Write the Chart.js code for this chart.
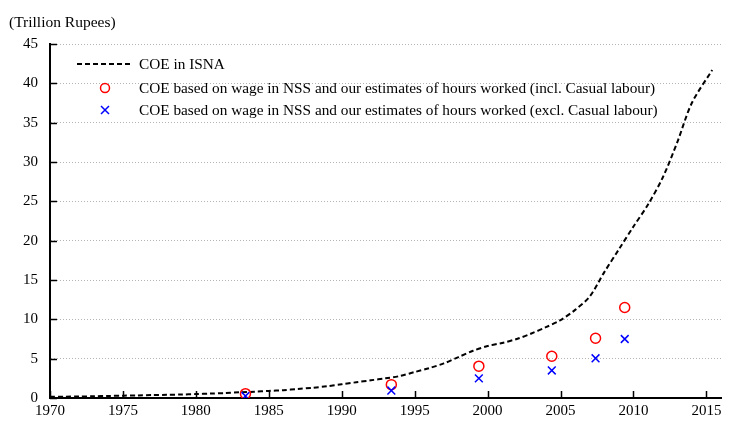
<!DOCTYPE html>
<html>
<head>
<meta charset="utf-8">
<script src="https://cdn.jsdelivr.net/npm/chart.js@4.4.1/dist/chart.umd.min.js"></script>
<style>
  body { margin: 0; background: #fff; }
</style>
</head>
<body>
<canvas id="chart" width="729" height="422"></canvas>
<script>
// COE in ISNA (trillion rupees), annual
const isnaYears = [1970, 1971, 1972, 1973, 1974, 1975, 1976, 1977, 1978, 1979,
  1980, 1981, 1982, 1983, 1984, 1985, 1986, 1987, 1988, 1989,
  1990, 1991, 1992, 1993, 1994, 1995, 1996, 1997, 1998, 1999,
  2000, 2001, 2002, 2003, 2004, 2005, 2006, 2007, 2008, 2009,
  2010, 2011, 2012, 2013, 2014, 2015.4];
const isnaValues = [0.15, 0.17, 0.19, 0.22, 0.26, 0.3, 0.33, 0.37, 0.4, 0.44,
  0.5, 0.56, 0.63, 0.72, 0.8, 0.9, 1.0, 1.15, 1.3, 1.5,
  1.75, 2.0, 2.25, 2.5, 2.8, 3.3, 3.8, 4.4, 5.2, 6.0,
  6.6, 7.0, 7.5, 8.2, 9.0, 9.9, 11.2, 12.9, 16.0, 18.9,
  21.8, 24.6, 28.0, 32.5, 37.5, 41.7];

// NSS survey rounds
const nssYears = [1983.4, 1993.4, 1999.4, 2004.4, 2007.4, 2009.4];
const inclCasual = [0.55, 1.7, 4.05, 5.3, 7.6, 11.5];
const exclCasual = [0.25, 0.95, 2.5, 3.5, 5.05, 7.5];

const yTicks = [0, 5, 10, 15, 20, 25, 30, 35, 40, 45];
const xTicks = [1970, 1975, 1980, 1985, 1990, 1995, 2000, 2005, 2010, 2015];

const legendLabels = [
  "COE in ISNA",
  "COE based on wage in NSS and our estimates of hours worked (incl. Casual labour)",
  "COE based on wage in NSS and our estimates of hours worked (excl. Casual labour)"
];

const FONT = "'Liberation Serif', 'Times New Roman', serif";

const toPoints = (xs, ys) => xs.map((x, i) => ({ x: x, y: ys[i] }));

// unit label, inward ticks and the legend inside the plot
const extras = {
  id: "extras",
  afterDraw(chart) {
    const c = chart.ctx;
    const xs = chart.scales.x, ys = chart.scales.y;
    const area = chart.chartArea;
    c.save();
    c.strokeStyle = "#000";
    c.lineWidth = 1.5;
    xTicks.forEach(v => {
      const px = Math.round(xs.getPixelForValue(v)) + 0.5;
      c.beginPath();
      c.moveTo(px, area.bottom);
      c.lineTo(px, area.bottom - 7);
      c.stroke();
    });
    yTicks.forEach(v => {
      const py = Math.round(ys.getPixelForValue(v)) + 0.5;
      c.beginPath();
      c.moveTo(area.left, py);
      c.lineTo(area.left + 7, py);
      c.stroke();
    });

    c.fillStyle = "#000";
    c.font = "15.5px " + FONT;
    c.textBaseline = "middle";
    c.textAlign = "left";
    c.fillText("(Trillion Rupees)", 9, 23);

    // legend
    const rowsY = [64, 88, 110];
    c.setLineDash([5, 3]);
    c.lineWidth = 2;
    c.beginPath();
    c.moveTo(77, rowsY[0]);
    c.lineTo(132, rowsY[0]);
    c.stroke();
    c.setLineDash([]);

    c.strokeStyle = "#ff0000";
    c.lineWidth = 1.5;
    c.beginPath();
    c.arc(105, rowsY[1], 4.5, 0, Math.PI * 2);
    c.stroke();

    c.strokeStyle = "#0000ff";
    c.beginPath();
    c.moveTo(101, rowsY[2] - 4); c.lineTo(109, rowsY[2] + 4);
    c.moveTo(109, rowsY[2] - 4); c.lineTo(101, rowsY[2] + 4);
    c.stroke();

    c.fillStyle = "#000";
    c.font = "15.3px " + FONT;
    legendLabels.forEach((t, i) => c.fillText(t, 139, rowsY[i] + 1));
    c.restore();
  }
};

new Chart(document.getElementById("chart"), {
  type: "scatter",
  data: {
    datasets: [
      {
        label: legendLabels[0],
        type: "line",
        data: toPoints(isnaYears, isnaValues),
        borderColor: "#000",
        borderWidth: 2,
        borderDash: [5, 3],
        pointRadius: 0,
        tension: 0.3,
        fill: false,
        order: 3
      },
      {
        label: legendLabels[1],
        data: toPoints(nssYears, inclCasual),
        pointStyle: "circle",
        pointRadius: 5,
        borderColor: "#ff0000",
        backgroundColor: "rgba(0,0,0,0)",
        borderWidth: 1.5,
        order: 2
      },
      {
        label: legendLabels[2],
        data: toPoints(nssYears, exclCasual),
        pointStyle: "crossRot",
        pointRadius: 5.5,
        borderColor: "#0000ff",
        borderWidth: 1.5,
        order: 1
      }
    ]
  },
  options: {
    responsive: false,
    animation: false,
    devicePixelRatio: 1,
    layout: { padding: { top: 44, right: 8, left: 0, bottom: 0 } },
    plugins: {
      legend: { display: false },
      tooltip: { enabled: false }
    },
    scales: {
      x: {
        type: "linear",
        min: 1970,
        max: 2016,
        afterBuildTicks: s => { s.ticks = xTicks.map(v => ({ value: v })); },
        afterFit: s => { s.height = 24; },
        grid: { display: false, drawTicks: false },
        border: { display: true, color: "#000", width: 2 },
        ticks: {
          color: "#000",
          padding: 4,
          maxRotation: 0,
          autoSkip: false,
          font: { family: FONT, size: 15 },
          callback: v => String(v)
        }
      },
      y: {
        min: 0,
        max: 45,
        afterBuildTicks: s => { s.ticks = yTicks.map(v => ({ value: v })); },
        afterFit: s => { s.width = 50; },
        grid: {
          drawTicks: false,
          color: ctx => ctx.tick && ctx.tick.value === 0 ? "rgba(0,0,0,0)" : "#b4b4b4",
          lineWidth: 1
        },
        border: { display: true, color: "#000", width: 2, dash: [1, 2] },
        ticks: {
          color: "#000",
          padding: 12,
          font: { family: FONT, size: 15 },
          callback: v => String(v)
        }
      }
    }
  },
  plugins: [extras]
});
</script>
</body>
</html>
